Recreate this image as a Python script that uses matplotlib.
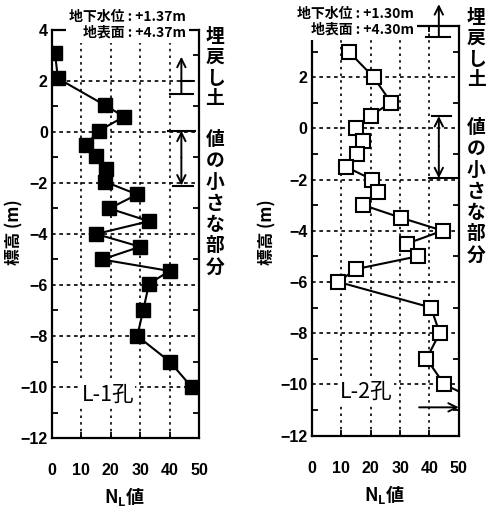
import matplotlib

matplotlib.use("Agg")
import matplotlib.pyplot as plt
from matplotlib import font_manager
from matplotlib.ticker import MultipleLocator

plt.rcParams["font.family"] = ["Noto Sans CJK JP", "DejaVu Sans"]

# L-1 hole (filled squares)
l1_n = [1, 2, 18, 24.5, 16, 11.5, 15, 18.5, 18, 29, 19.5, 33, 15, 30, 17, 40, 33, 31, 29, 40, 47.5]
l1_z = [3.1, 2.1, 1.05, 0.6, 0.05, -0.5, -0.95, -1.45, -1.95, -2.45, -3.0, -3.5,
        -4.0, -4.5, -5.0, -5.45, -5.95, -7.0, -8.0, -9.0, -10.0]

# L-2 hole (open squares); last point lies outside the plotted range
l2_n = [12.5, 21, 27, 20, 15, 17.5, 15.5, 11.5, 20.5, 22.5, 17.5, 30.5, 44.5, 32.5, 36,
        15, 9, 40.5, 43.5, 39, 45, 63]
l2_z = [3.0, 2.0, 1.0, 0.5, 0.0, -0.5, -1.0, -1.5, -2.0, -2.5, -3.0, -3.5, -4.0, -4.5,
        -5.0, -5.5, -6.0, -7.0, -8.0, -9.0, -10.0, -11.0]

x_ticks = [0, 10, 20, 30, 40, 50]
y_ticks = [-12, -10, -8, -6, -4, -2, 0, 2, 4]

hole_names = ["L-1孔", "L-2孔"]
water_levels = ["地下水位 : +1.37m\n地表面 : +4.37m", "地下水位 : +1.30m\n地表面 : +4.30m"]
fill_label = "埋戻し土"
weak_label = "値の小さな部分"


def pick_font(names):
    for name in names:
        try:
            font_manager.findfont(name, fallback_to_default=False)
            return name
        except ValueError:
            pass
    return "DejaVu Sans"


TICK_FONT = pick_font(["Liberation Sans Narrow", "DejaVu Sans Condensed", "Liberation Sans"])
TICK_SIZE = 13.5 if TICK_FONT != "Liberation Sans" else 11.5


def style_labels(labels):
    for lab in labels:
        lab.set_fontfamily(TICK_FONT)
        lab.set_fontweight("bold")
        lab.set_fontsize(TICK_SIZE)


def setup_axes(ax, show_top_label=True):
    ax.set_xlim(0, 50)
    ax.set_ylim(-12, 4)
    ax.set_xticks(x_ticks)
    ax.set_yticks(y_ticks)
    ylabels = [str(v).replace("-", "\u2212") for v in y_ticks]
    if not show_top_label:
        ylabels[-1] = ""
    ax.set_yticklabels(ylabels)
    ax.yaxis.set_minor_locator(MultipleLocator(1))
    ax.tick_params(axis="both", which="both", direction="in", top=True, right=True,
                   width=1.3, color="black")
    ax.tick_params(axis="y", which="major", length=0, pad=3)
    ax.tick_params(axis="y", which="minor", length=4)
    ax.tick_params(axis="x", which="major", length=4, pad=18)
    style_labels(ax.get_xticklabels() + ax.get_yticklabels())
    for g in [2, 0, -2, -4, -6, -8, -10]:
        ax.axhline(g, color="black", lw=1.2, ls=(0, (2.2, 2.2)), zorder=1)
    for g in [10, 20, 30, 40]:
        ax.axvline(g, color="black", lw=1.2, ls=(0, (1.5, 2.5)), zorder=1)
    for s in ax.spines.values():
        s.set_linewidth(1.6)


def bar(ax, x0, x1, y):
    ax.plot([x0, x1], [y, y], color="black", lw=1.5, clip_on=False, zorder=3)


def arrow(ax, x0, y0, x1, y1):
    ax.annotate("", xy=(x1, y1), xytext=(x0, y0), annotation_clip=False,
                arrowprops=dict(arrowstyle="->", color="black", lw=1.4,
                                mutation_scale=15, shrinkA=0, shrinkB=0))


fig = plt.figure(figsize=(4.88, 5.12), dpi=100)
ax1 = fig.add_axes([0.1066, 0.1445, 0.3012, 0.797])
ax2 = fig.add_axes([0.639, 0.1494, 0.3012, 0.80])

setup_axes(ax1)
setup_axes(ax2, show_top_label=False)

ax1.plot(l1_n, l1_z, color="black", lw=1.5, marker="s", ms=9.5, mfc="black",
         mec="black", zorder=4)
ax2.plot(l2_n, l2_z, color="black", lw=1.5, marker="s", ms=9.5, mfc="white",
         mec="black", mew=1.5, zorder=4)

# L-1 annotations
arrow(ax1, 44, 1.5, 44, 2.95)
bar(ax1, 40, 48, 1.5)
bar(ax1, 44, 48, 2.0)
bar(ax1, 39.5, 48.5, 0.05)
arrow(ax1, 44, -1.0, 44, 0.05)
arrow(ax1, 44, -1.0, 44, -2.1)
bar(ax1, 41, 48, -2.1)
ax1.text(10, -10.3, hole_names[0], fontsize=15.5, va="center", ha="left",
         bbox=dict(facecolor="white", edgecolor="none", pad=1), zorder=5)

# L-2 annotations
arrow(ax2, 43.2, 3.58, 43.2, 4.85)
bar(ax2, 39, 47, 3.58)
bar(ax2, 41, 47.5, 0.48)
arrow(ax2, 43.2, -0.7, 43.2, 0.48)
arrow(ax2, 43.2, -0.7, 43.2, -1.95)
bar(ax2, 40, 50, -1.95)
arrow(ax2, 36.5, -10.9, 50, -10.9)
ax2.text(9.5, -10.3, hole_names[1], fontsize=15.5, va="center", ha="left",
         bbox=dict(facecolor="white", edgecolor="none", pad=1), zorder=5)

# groundwater / ground surface notes (white box hides part of the frame)
for xr, yt, txt in [(186, 10, water_levels[0]), (414, 7, water_levels[1])]:
    fig.text(xr / 488, 1 - yt / 512, txt, ha="right", va="top", fontsize=10,
             fontweight="bold", multialignment="right", linespacing=1.15,
             bbox=dict(facecolor="white", edgecolor="none", pad=2.5), zorder=6)

# vertical side labels
for xp, y_fill, y_weak in [(215, 27, 130), (476, 8, 118)]:
    fig.text(xp / 488, 1 - y_fill / 512, "\n".join(fill_label), ha="center", va="top",
             fontsize=13.5, fontweight="bold", linespacing=1.12)
    fig.text(xp / 488, 1 - y_weak / 512, "\n".join(weak_label), ha="center", va="top",
             fontsize=13.5, fontweight="bold", linespacing=1.15)

# axis labels
for xp in (14, 267):
    fig.text(xp / 488, 1 - 232 / 512, "標高 (m)", rotation=90, ha="center", va="center",
             fontsize=12, fontweight="bold")
for xp, yp in ((124, 497), (384, 495)):
    fig.text(xp / 488, 1 - yp / 512, "N$_\\mathregular{L}$値", ha="center", va="center",
             fontsize=13, fontweight="bold")

fig.savefig("out.png", dpi=100)
